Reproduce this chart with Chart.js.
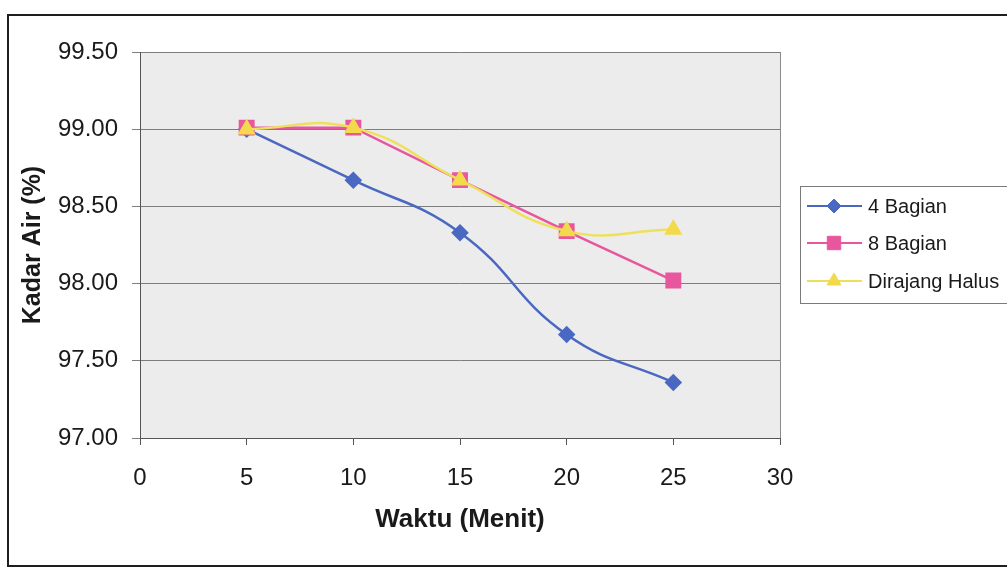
<!DOCTYPE html>
<html>
<head>
<meta charset="utf-8">
<script src="https://cdn.jsdelivr.net/npm/chart.js@4"></script>
<style>
  html, body { margin: 0; padding: 0; background: #fff; }
  #wrap { position: absolute; left: 0; top: 0; width: 1007px; height: 571px; }
</style>
</head>
<body>
<div id="wrap"><canvas id="chart"></canvas></div>
<script>
// --- data ---
const waktu = [5, 10, 15, 20, 25];
const empatBagian = [99.00, 98.67, 98.33, 97.67, 97.36];
const delapanBagian = [99.01, 99.01, 98.67, 98.34, 98.02];
const dirajangHalus = [99.00, 99.01, 98.67, 98.34, 98.35];
const seriesNames = ['4 Bagian', '8 Bagian', 'Dirajang Halus'];
const xTicks = [0, 5, 10, 15, 20, 25, 30];
const yTicks = [97.0, 97.5, 98.0, 98.5, 99.0, 99.5];

const FONT = '"Liberation Sans", Arial, sans-serif';

function toPoints(ys) {
  return waktu.map((x, i) => ({ x: x, y: ys[i] }));
}

// plot background, plot border, outer frame and the boxed legend
const excelLook = {
  id: 'excelLook',
  beforeDatasetsDraw(chart) {
    const { ctx, chartArea: a } = chart;
    ctx.save();
    ctx.strokeStyle = '#8a8a8a';
    ctx.lineWidth = 1;
    ctx.beginPath();
    ctx.moveTo(a.right + 0.5, a.top);
    ctx.lineTo(a.right + 0.5, a.bottom);
    ctx.stroke();
    ctx.restore();
  },
  beforeDraw(chart) {
    const { ctx, chartArea: a } = chart;
    ctx.save();
    ctx.fillStyle = '#fff';
    ctx.fillRect(0, 0, chart.width, chart.height);
    ctx.fillStyle = '#ececec';
    ctx.fillRect(a.left, a.top, a.right - a.left, a.bottom - a.top);
    // outer chart frame
    ctx.strokeStyle = '#1e1e1e';
    ctx.lineWidth = 2;
    ctx.strokeRect(8, 15, 1020, 551);
    ctx.restore();
  },
  afterDraw(chart) {
    const { ctx } = chart;
    ctx.save();
    ctx.strokeStyle = '#7a7a7a';
    ctx.lineWidth = 1;
    ctx.strokeRect(800.5, 186.5, 240, 117);
    const rows = [206, 243, 281];
    chart.data.datasets.forEach((ds, i) => {
      const y = rows[i];
      ctx.strokeStyle = ds.borderColor;
      ctx.lineWidth = 2;
      ctx.beginPath();
      ctx.moveTo(807, y);
      ctx.lineTo(862, y);
      ctx.stroke();
      ctx.fillStyle = ds.pointBackgroundColor;
      ctx.strokeStyle = ds.pointBorderColor;
      ctx.lineWidth = 1;
      Chart.helpers.drawPoint(ctx, {
        pointStyle: ds.pointStyle,
        radius: ds.pointRadius,
        borderWidth: 1
      }, 834, y);
      ctx.fillStyle = '#1a1a1a';
      ctx.font = '20px ' + FONT;
      ctx.textBaseline = 'middle';
      ctx.textAlign = 'left';
      ctx.fillText(ds.label, 868, y + 1);
    });
    ctx.restore();
  }
};

const ctx = document.getElementById('chart');
new Chart(ctx, {
  type: 'line',
  data: {
    datasets: [
      {
        label: seriesNames[0],
        data: toPoints(empatBagian),
        borderColor: '#4a68c2',
        pointBackgroundColor: '#4a68c2',
        pointBorderColor: '#4a68c2',
        pointStyle: 'rectRot',
        pointRadius: 7,
        borderWidth: 2.5,
        tension: 0.45,
        order: 2
      },
      {
        label: seriesNames[1],
        data: toPoints(delapanBagian),
        borderColor: '#e8579d',
        pointBackgroundColor: '#e8579d',
        pointBorderColor: '#e8579d',
        pointStyle: 'rect',
        pointRadius: 9.5,
        borderWidth: 2.5,
        tension: 0,
        order: 1
      },
      {
        label: seriesNames[2],
        data: toPoints(dirajangHalus),
        borderColor: '#efe05c',
        pointBackgroundColor: '#f3da4c',
        pointBorderColor: '#f3da4c',
        pointStyle: 'triangle',
        pointRadius: 8,
        borderWidth: 2.5,
        tension: 0.45,
        order: 0
      }
    ]
  },
  options: {
    responsive: true,
    maintainAspectRatio: false,
    animation: false,
    layout: { padding: { top: 52, right: 227, bottom: 0, left: 0 } },
    plugins: {
      legend: { display: false },
      tooltip: { enabled: false }
    },
    scales: {
      x: {
        type: 'linear',
        min: 0,
        max: 30,
        afterBuildTicks: (scale) => { scale.ticks = xTicks.map(v => ({ value: v })); },
        afterFit: (scale) => { scale.height = 133; },
        grid: { drawOnChartArea: false, drawTicks: true, tickLength: 7, color: '#555' },
        border: { color: '#555', width: 1 },
        ticks: {
          color: '#1a1a1a',
          padding: 19,
          font: { family: FONT, size: 24 },
          maxRotation: 0
        },
        title: {
          display: true,
          text: 'Waktu (Menit)',
          color: '#1a1a1a',
          font: { family: FONT, size: 26, weight: 'bold' },
          padding: { top: 0, bottom: 36 }
        }
      },
      y: {
        min: 97,
        max: 99.5,
        afterBuildTicks: (scale) => { scale.ticks = yTicks.map(v => ({ value: v })); },
        afterFit: (scale) => { scale.width = 140; },
        grid: { color: '#7d7d7d', tickLength: 8, lineWidth: 1 },
        border: { color: '#555', width: 1 },
        ticks: {
          color: '#1a1a1a',
          padding: 14,
          font: { family: FONT, size: 24 },
          callback: (v) => Number(v).toFixed(2)
        },
        title: {
          display: true,
          text: 'Kadar Air (%)',
          color: '#1a1a1a',
          font: { family: FONT, size: 25, weight: 'bold' },
          padding: { top: 18, bottom: 0 }
        }
      }
    }
  },
  plugins: [excelLook]
});
</script>
</body>
</html>
